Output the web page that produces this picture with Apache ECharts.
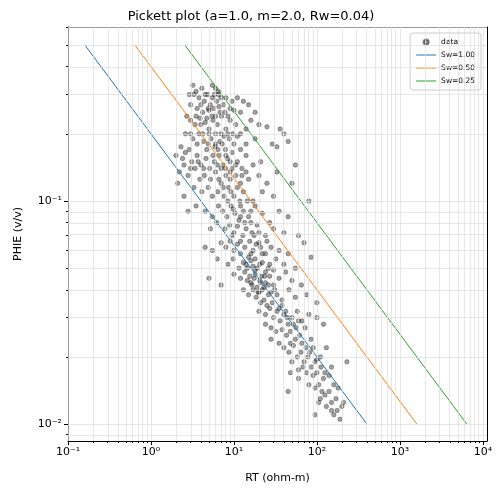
<!DOCTYPE html>
<html>
<head>
<meta charset="utf-8">
<script src="https://cdn.jsdelivr.net/npm/echarts@6/dist/echarts.min.js"></script>
<style>html,body{margin:0;padding:0;background:#fff}#chart{width:502px;height:495px}</style>
</head>
<body>
<div id="chart"></div>
<script>
// sample cloud: [RT ohm-m, PHIE v/v]
const samples = [
  [3.2,0.33],[3.5,0.31],[4.1,0.32],[4.8,0.30],[5.5,0.33],[6.0,0.32],[5.8,0.30],[6.5,0.31],[3.8,0.29],[4.4,0.28],
  [5.2,0.27],[6.2,0.28],[7.0,0.29],[8.0,0.29],[9.5,0.28],[11,0.29],[13,0.28],[3.0,0.27],[3.6,0.26],[4.2,0.25],
  [5.0,0.255],[5.7,0.26],[7.5,0.27],[9,0.26],[10,0.255],[12,0.25],[15,0.27],[18,0.25],[2.9,0.30],[6.8,0.25],
  [2.7,0.24],[3.0,0.23],[3.4,0.22],[3.9,0.235],[4.5,0.225],[5.0,0.21],[5.6,0.23],[6.3,0.22],[7.1,0.24],[8.0,0.21],
  [9.0,0.23],[10.5,0.22],[12,0.20],[14,0.21],[16,0.23],[20,0.22],[25,0.215],[36,0.21],[40,0.20],[2.6,0.20],
  [3.2,0.19],[3.8,0.20],[4.3,0.185],[5.3,0.19],[6.0,0.20],[6.8,0.185],[7.6,0.195],[8.8,0.19],[10,0.18],[11,0.195],
  [14,0.18],[18,0.19],[29,0.18],[33,0.175],[45,0.185],[2.3,0.175],[2.9,0.17],[4.7,0.17],[5.9,0.175],[7.9,0.17],
  [9.5,0.165],[2.0,0.16],[2.4,0.155],[2.6,0.165],[3.1,0.15],[3.6,0.16],[4.0,0.145],[4.6,0.155],[5.1,0.14],[5.8,0.15],
  [6.6,0.16],[7.4,0.145],[8.3,0.155],[9.5,0.14],[11,0.15],[12.5,0.14],[14,0.16],[17,0.145],[21,0.15],[2.2,0.135],
  [2.8,0.13],[3.4,0.14],[3.9,0.125],[4.4,0.13],[5.2,0.125],[6.0,0.135],[7.0,0.12],[8.0,0.13],[9.0,0.125],[10.5,0.13],
  [12,0.12],[15,0.125],[20,0.13],[25,0.12],[33,0.135],[55,0.145],[50,0.12],[2.1,0.12],[2.5,0.105],[3.3,0.115],
  [4.1,0.11],[4.9,0.115],[5.5,0.105],[6.4,0.11],[7.6,0.105],[8.6,0.115],[10,0.105],[13,0.11],[17,0.1],[22,0.11],
  [30,0.105],[2.8,0.09],[3.5,0.095],[80,0.1],[4.5,0.09],[5.5,0.085],[6.5,0.095],[7.3,0.09],[8.2,0.085],[9.2,0.095],
  [10.3,0.088],[11.5,0.082],[13,0.09],[15,0.085],[18,0.095],[22,0.088],[27,0.08],[35,0.09],[45,0.085],[5.2,0.075],
  [6.2,0.08],[7.8,0.075],[8.9,0.078],[10,0.072],[11,0.077],[12.8,0.07],[14,0.075],[16.5,0.072],[19,0.078],[24,0.07],
  [30,0.075],[40,0.072],[60,0.07],[70,0.065],[4.5,0.062],[5.5,0.06],[7.0,0.065],[8.0,0.062],[9.0,0.066],[10,0.06],
  [11,0.064],[12,0.058],[13.5,0.062],[15,0.056],[17,0.06],[20,0.065],[24,0.058],[28,0.062],[35,0.06],[45,0.058],
  [6.3,0.055],[8.5,0.052],[9.8,0.055],[11.5,0.05],[13,0.053],[14.5,0.05],[16,0.054],[19,0.05],[22,0.053],[26,0.05],
  [32,0.055],[40,0.052],[55,0.05],[85,0.056],[5,0.045],[7,0.042],[10,0.047],[12,0.045],[13.5,0.048],[14.5,0.044],
  [15.5,0.046],[16.5,0.042],[17.5,0.045],[19,0.041],[20.5,0.044],[22,0.04],[24,0.043],[27,0.046],[30,0.042],[35,0.045],
  [42,0.048],[50,0.044],[65,0.042],[13,0.04],[15,0.038],[17,0.04],[18.5,0.037],[20,0.039],[23,0.036],[26,0.038],
  [29,0.035],[33,0.038],[38,0.036],[46,0.04],[55,0.037],[75,0.038],[100,0.035],[21,0.035],[25,0.034],[20,0.032],
  [24,0.031],[27,0.033],[30,0.03],[33,0.032],[36,0.029],[40,0.031],[45,0.028],[50,0.03],[58,0.032],[66,0.029],
  [80,0.031],[100,0.03],[120,0.028],[24,0.028],[28,0.027],[32,0.026],[38,0.0265],[43,0.025],[48,0.026],[55,0.024],
  [62,0.025],[72,0.027],[85,0.024],[28,0.024],[35,0.023],[40,0.022],[46,0.021],[52,0.0225],[58,0.02],[64,0.021],
  [70,0.019],[78,0.02],[86,0.018],[95,0.019],[110,0.02],[130,0.022],[50,0.019],[60,0.0175],[68,0.018],[75,0.017],
  [90,0.0165],[100,0.017],[120,0.016],[150,0.018],[230,0.019],[45,0.014],[48,0.017],[80,0.015],[95,0.0145],[105,0.015],
  [115,0.014],[125,0.0135],[140,0.014],[160,0.015],[180,0.0145],[110,0.013],[130,0.012],[150,0.0125],[170,0.013],[200,0.012],
  [95,0.011],[150,0.0115],[190,0.0105],[210,0.0125],[60,0.016],
  [16,0.043],[18,0.047],[19.5,0.039],[21.5,0.046],[23,0.041],[14,0.052],[16,0.058],[18,0.055],[12,0.066],[9.5,0.07],
  [7,0.14],[8,0.16],[6,0.18],[5,0.2],[4,0.22],[7,0.2],[9,0.15],[5.5,0.29],[6.5,0.3],[4.5,0.3],
  [3.3,0.3],[4.0,0.27],[4.9,0.26],[5.4,0.24],[6.6,0.265],[7.8,0.25],[3.5,0.24],[4.7,0.235],[6.0,0.24],[8.5,0.24],
  [3.0,0.2],[3.6,0.18],[4.2,0.2],[4.9,0.18],[6.4,0.17],[7.2,0.18],[8.4,0.2],[9.7,0.2],[12,0.17],[2.5,0.145],
  [3.0,0.14],[3.7,0.15],[4.3,0.14],[5.6,0.16],[6.3,0.145],[7.9,0.14],[9,0.135],[10.5,0.145],[12.5,0.13],[14,0.135],
  [6.6,0.125],[7.4,0.115],[9.2,0.11],[11,0.115],[11.8,0.1],[14.5,0.1],[8.4,0.1],[9.8,0.092],[12,0.095],[16,0.09],
  [12,0.085],[13.5,0.08],[16,0.08],[17.5,0.07],[20,0.072],[21,0.062],[22,0.058],[18.5,0.064],[15.5,0.066],[25,0.066],
  [17,0.051],[18,0.049],[20.5,0.052],[24,0.048],[27,0.052],[30,0.049],[21,0.043],[23.5,0.046],[26,0.042],[28,0.039],
  [31,0.04],[35,0.033],[38,0.034],[42,0.032],[44,0.03],[52,0.028],[56,0.027],[60,0.029],[48,0.023],[66,0.023],
  [74,0.022],[82,0.021],[90,0.022],[100,0.0195],[112,0.018],[125,0.017],[140,0.0165],[105,0.0125],[175,0.0115],[160,0.011]
];
const swLevels = ['Sw=1.00', 'Sw=0.50', 'Sw=0.25'];
const swColors = ['#1f77b4', '#ff7f0e', '#2ca02c'];
// line end points [RT, PHIE]
const swLines = [
  [[0.16, 0.5], [400, 0.01]],
  [[0.64, 0.5], [1600, 0.01]],
  [[2.56, 0.5], [6400, 0.01]]
];
const xMajors = [-1, 0, 1, 2, 3, 4];
const yMajors = [-2, -1];
const xRange = [-1.0, 4.05];
const yRange = [-2.076, -0.22];

const L = Math.log10;
const sup = {'-': '⁻', '0': '⁰', '1': '¹', '2': '²', '3': '³', '4': '⁴'};
const powLabel = v => '10' + String(Math.round(v)).split('').map(c => sup[c]).join('');

const xMinors = [], yMinors = [];
for (let j = -1; j <= 3; j++) for (let k = 2; k <= 9; k++) xMinors.push(L(k * Math.pow(10, j)));
for (let j = -3; j <= -1; j++) for (let k = 2; k <= 9; k++) {
  const v = L(k * Math.pow(10, j));
  if (v > yRange[0] && v < yRange[1]) yMinors.push(v);
}

const gridLines = [];
xMajors.concat(xMinors).forEach(v => gridLines.push({xAxis: v}));
yMajors.concat(yMinors).forEach(v => gridLines.push({yAxis: v}));

const font = 'DejaVu Sans';
const mkAxis = (range, pos, ticks, labels, len, line) => ({
  type: 'value', min: range[0], max: range[1], position: pos,
  splitLine: {show: false},
  axisLine: {show: line, onZero: false, lineStyle: {color: '#000'}},
  axisTick: {show: ticks.length > 0, length: len, customValues: ticks, lineStyle: {color: '#000'}},
  axisLabel: {show: labels, customValues: ticks, formatter: powLabel, color: '#000', fontFamily: font, fontSize: 11, margin: 6}
});

const xA = mkAxis(xRange, 'bottom', xMajors, true, 4, true);
xA.name = 'RT (ohm-m)'; xA.nameLocation = 'middle'; xA.nameGap = 32;
xA.nameTextStyle = {fontFamily: font, fontSize: 11, color: '#000'};
const yA = mkAxis(yRange, 'left', yMajors, true, 4, true);
yA.name = 'PHIE (v/v)'; yA.nameLocation = 'middle'; yA.nameGap = 44;
yA.nameTextStyle = {fontFamily: font, fontSize: 11, color: '#000'};

const series = [{
  name: 'data', type: 'scatter', symbolSize: 4.5,
  data: samples.map(p => [L(p[0]), L(p[1])]),
  itemStyle: {color: 'rgba(20,20,20,0.5)', borderColor: 'rgba(0,0,0,0.6)', borderWidth: 0.6},
  markLine: {
    silent: true, symbol: 'none', animation: false, label: {show: false},
    lineStyle: {color: '#dcdcdc', width: 0.7, type: 'solid'},
    data: gridLines
  },
  z: 3
}];
swLevels.forEach((name, i) => series.push({
  name: name, type: 'line', showSymbol: false, symbol: 'none',
  data: swLines[i].map(p => [L(p[0]), L(p[1])]),
  lineStyle: {color: swColors[i], width: 1}, itemStyle: {color: swColors[i]}, z: 4
}));

const lineIcon = 'path://M0,0L20,0L20,1L0,1Z';
const chart = echarts.init(document.getElementById('chart'));
chart.setOption({
  animation: false,
  title: {text: 'Pickett plot (a=1.0, m=2.0, Rw=0.04)', left: 'center', top: 5,
    textStyle: {fontFamily: font, fontSize: 13, fontWeight: 'normal', color: '#000'}},
  grid: {left: 68, right: 15, top: 27, bottom: 54},
  xAxis: [xA, mkAxis(xRange, 'bottom', xMinors, false, 2, false), mkAxis(xRange, 'top', [], false, 0, true)],
  yAxis: [yA, mkAxis(yRange, 'left', yMinors, false, 2, false), mkAxis(yRange, 'right', [], false, 0, true)],
  legend: {
    orient: 'vertical', right: 21, top: 33, itemGap: 5, itemWidth: 20, itemHeight: 5,
    padding: [5, 6], borderColor: '#ccc', borderWidth: 1, borderRadius: 3, backgroundColor: '#fff',
    textStyle: {fontFamily: font, fontSize: 7.5, color: '#000'},
    data: [{name: 'data', icon: 'path://M8,0A2,2 0 1 1 8,4A2,2 0 1 1 8,0Z', itemStyle: {color: 'rgba(0,0,0,0.45)'}}]
      .concat(swLevels.map(n => ({name: n, icon: lineIcon})))
  },
  series: series
});
</script>
</body>
</html>
